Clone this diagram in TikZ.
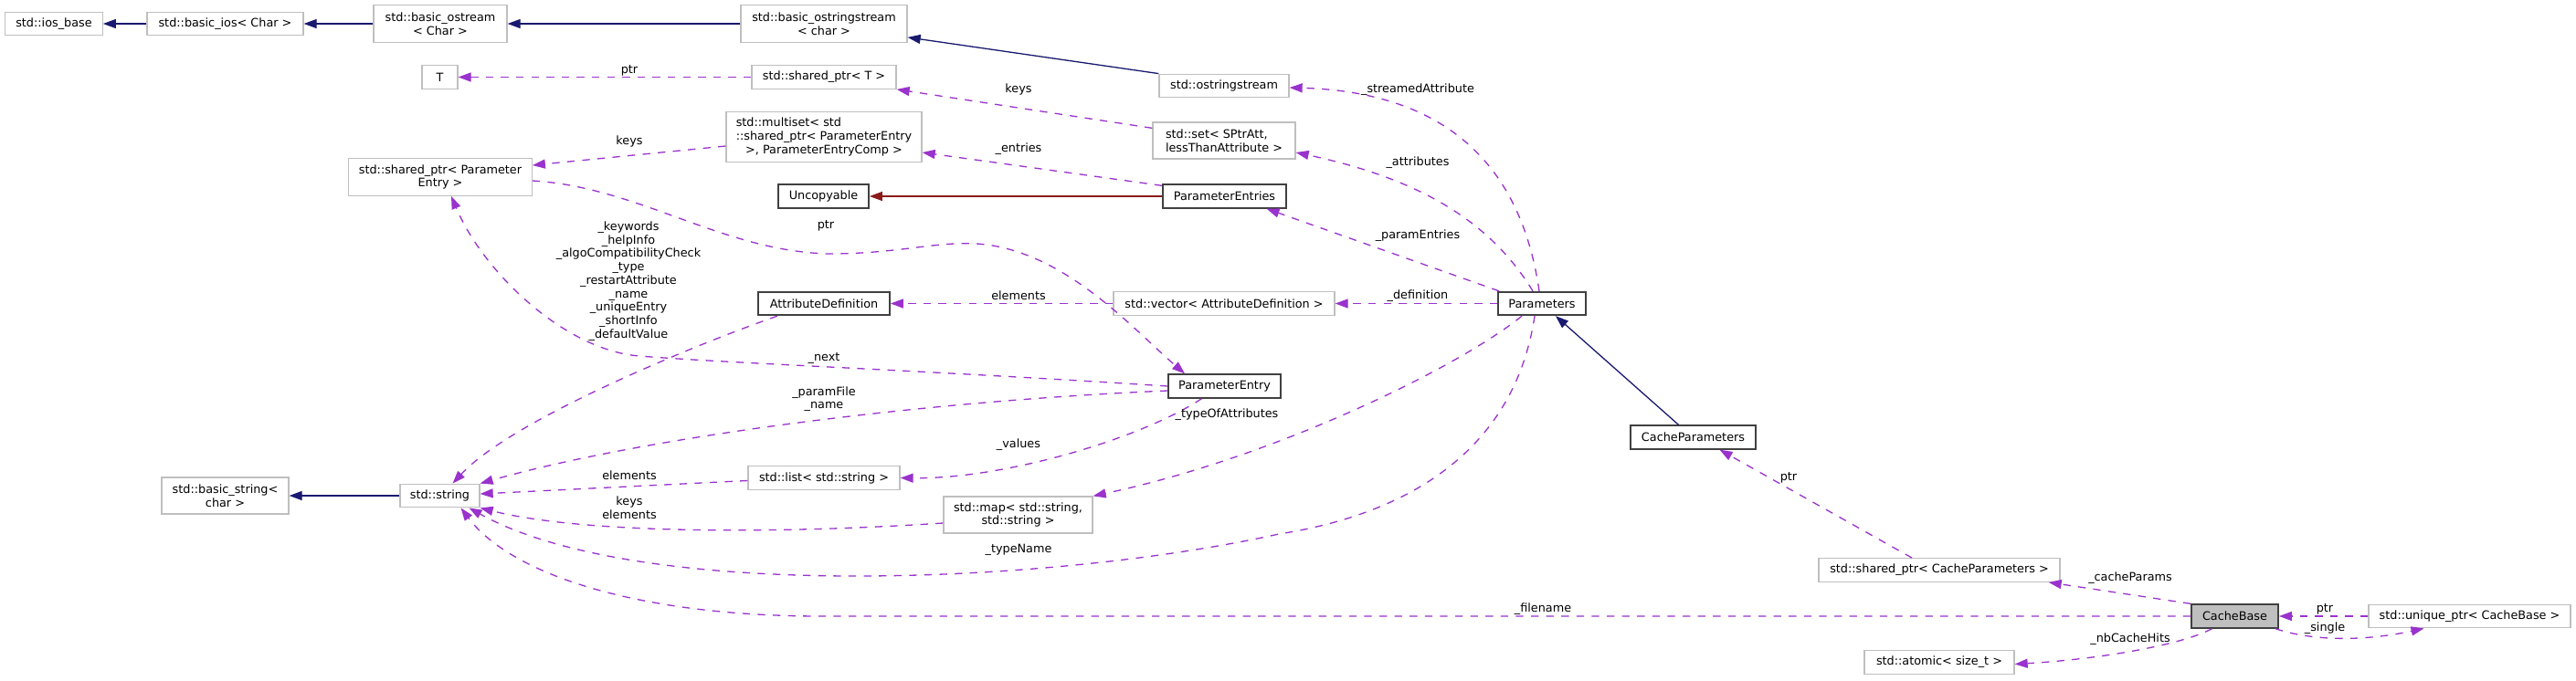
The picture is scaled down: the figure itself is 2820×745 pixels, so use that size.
\documentclass[tikz,border=0pt]{standalone}
\usepackage{fontspec}
\setmainfont{DejaVu Sans}
\usetikzlibrary{arrows.meta}
\definecolor{extgray}{HTML}{BFBFBF}
\definecolor{docline}{HTML}{404040}
\definecolor{usecol}{HTML}{9A32CD}
\definecolor{inhcol}{HTML}{191970}
\definecolor{privcol}{HTML}{8B1A1A}
\definecolor{basefill}{HTML}{BFBFBF}
\newcommand\dgfont{\fontsize{12.8}{14.7}\selectfont}
\tikzset{
  box/.style={rectangle, inner sep=0pt, align=center, font=\dgfont, fill=white},
  ext/.style={box, draw=extgray, line width=1.3pt},
  doc/.style={box, draw=docline, line width=1.8pt},
  sz/.style 2 args={minimum width=#1pt, minimum height=#2pt},
  lbl/.style={inner sep=0pt, align=center, font=\dgfont},
  tipend/.style={-{Triangle[length=14pt,width=10pt]}},
  use/.style={tipend, draw=usecol, line width=1.3pt, dash pattern=on 8.3pt off 8.3pt},
  inh/.style={tipend, draw=inhcol, line width=1.3pt},
  priv/.style={tipend, draw=privcol, line width=1.3pt},
}
\begin{document}
\begin{tikzpicture}[x=1pt,y=-1pt]
\fill[white] (0,0) rectangle (2820,745);
\useasboundingbox (0,0) rectangle (2820,745);

% nodes
\node[ext, sz={106.5}{25.5}] (iosbase) at (59,26) {std::ios\_base};
\node[ext, sz={171}{25.5}] (basicios) at (246.5,26) {std::basic\_ios< Char >};
\node[ext, sz={146}{40.5}] (basicostream) at (482,26) {std::basic\_ostream\\< Char >};
\node[ext, sz={39}{25.5}] (T) at (481.5,84.5) {T};
\node[ext, sz={200.5}{40.5}] (shPE) at (482,194) {std::shared\_ptr< Parameter\\Entry >};
\node[ext, sz={182}{40.5}] (basicostringstream) at (902,26) {std::basic\_ostringstream\\< char >};
\node[ext, sz={158}{25.5}] (sptrT) at (902,84.5) {std::shared\_ptr< T >};
\node[ext, sz={214}{54.5}] (multiset) at (902,150) {\rlap{std::multiset< std}\phantom{::shared\_ptr< ParameterEntry}\\::shared\_ptr< ParameterEntry\\>, ParameterEntryComp >};
\node[doc, sz={99}{25.5}] (uncopyable) at (901.5,215) {Uncopyable};
\node[doc, sz={135}{25.5}] (paramentries) at (1340.5,215) {ParameterEntries};
\node[ext, sz={142}{25.5}] (ostringstream) at (1340,94) {std::ostringstream};
\node[ext, sz={156}{40}] (stdset) at (1340,154) {\rlap{std::set< SPtrAtt,}\phantom{lessThanAttribute >}\\lessThanAttribute >};
\node[doc, sz={144}{25.5}] (attrdef) at (902,332.5) {AttributeDefinition};
\node[ext, sz={242}{25.5}] (vector) at (1340,332.5) {std::vector< AttributeDefinition >};
\node[doc, sz={96}{25.5}] (params) at (1688,332.5) {Parameters};
\node[ext, sz={139}{40}] (basicstring) at (246.5,543) {std::basic\_string<\\char >};
\node[ext, sz={87}{25.5}] (stdstring) at (481.5,543) {std::string};
\node[doc, sz={123}{25.5}] (paramentry) at (1340.5,423) {ParameterEntry};
\node[ext, sz={166}{25.5}] (list) at (902,523.5) {std::list< std::string >};
\node[ext, sz={163}{40}] (map) at (1114.5,564) {std::map< std::string,\\std::string >};
\node[doc, sz={137}{25.5}] (cacheparams) at (1853.5,479) {CacheParameters};
\node[ext, sz={264}{25.5}] (sptrcp) at (2123,624.5) {std::shared\_ptr< CacheParameters >};
\node[ext, sz={164}{25.5}] (atomic) at (2123,725.5) {std::atomic< size\_t >};
\node[doc, sz={95}{25.5}, fill=basefill] (cachebase) at (2446.5,675) {CacheBase};
\node[ext, sz={221}{25.5}] (uniqueptr) at (2703.5,675) {std::unique\_ptr< CacheBase >};

% inheritance
\draw[inh] (basicios) -- (iosbase);
\draw[inh] (basicostream) -- (basicios);
\draw[inh] (basicostringstream) -- (basicostream);
\draw[inh] (ostringstream.north west) -- ([yshift=6pt]basicostringstream.south east);
\draw[inh] (stdstring) -- (basicstring);
\draw[inh] ([xshift=-16pt]cacheparams.north) -- ([xshift=15pt]params.south);
\draw[priv] (paramentries) -- (uncopyable);

% usage
\draw[use] (sptrT) -- (T);
\draw[use] ([yshift=-7pt]stdset.north west) -- (sptrT.south east);
\draw[use] ([yshift=-10pt]multiset.west) -- ([yshift=13pt]shPE.east);
\draw[use] ([yshift=-2pt]paramentries.north west) -- ([yshift=-17pt]multiset.east);
\draw[use] ([xshift=-3pt]params.north) .. controls (1662,160) and (1560,100) .. ([yshift=-2pt]ostringstream.east);
\draw[use] ([xshift=-10pt]params.north) .. controls (1630,240) and (1550,195) .. ([yshift=-13pt]stdset.east);
\draw[use] ([xshift=2pt]params.north west) -- ([xshift=46pt]paramentries.south);
\draw[use] (params) -- (vector);
\draw[use] (vector) -- (attrdef);
\draw[use] ([yshift=-4pt]shPE.east) .. controls (700,205) and (790,275) .. (907,278)
  .. controls (990,278) and (1030,262) .. (1080,268)
  .. controls (1170,280) and (1240,360) .. ([xshift=-43.5pt]paramentry.north);
\draw[use] (paramentry.west) .. controls (1000,405) and (800,398) .. (700,390)
  .. controls (620,384) and (530,300) .. ([xshift=12pt]shPE.south);
\draw[use] ([xshift=-51pt]attrdef.south) .. controls (760,378) and (560,460) .. ([xshift=14pt]stdstring.north);
\draw[use] ([yshift=-5pt]paramentry.west) .. controls (1000,440) and (700,480) .. (stdstring.north east);
\draw[use] ([yshift=-3pt]list.west) -- ([yshift=2pt]stdstring.east);
\draw[use] ([xshift=-25pt]paramentry.south) .. controls (1250,480) and (1100,525) .. (list.east);
\draw[use] ([yshift=-9pt]map.west) .. controls (850,585) and (640,585) .. (stdstring.south east);
\draw[use] ([xshift=-22pt]params.south) .. controls (1600,400) and (1400,500) .. (map.north east);
\draw[use] ([xshift=-8pt]params.south) .. controls (1660,480) and (1560,560) .. (1400,585)
  .. controls (1150,640) and (700,660) .. ([xshift=32pt]stdstring.south);
\draw[use] (cachebase.west) -- (900,675) .. controls (700,675) and (560,630) .. ([xshift=23pt]stdstring.south);
\draw[use] ([xshift=-30pt]sptrcp.north) -- ([xshift=29pt]cacheparams.south);
\draw[use] (cachebase.north west) -- ([xshift=-13pt]sptrcp.south east);
\draw[use] (uniqueptr) -- (cachebase);
\draw[use] ([xshift=-4pt]cachebase.south east) .. controls (2540,705) and (2600,700) .. ([xshift=-50pt]uniqueptr.south);
\draw[use] ([xshift=-25pt]cachebase.south) .. controls (2390,706) and (2300,722) .. ([yshift=-2pt]atomic.east);

% labels
\node[lbl] (l1) at (689,77) {ptr};
\node[lbl] (l2) at (1115,98) {keys};
\node[lbl] (l3) at (689,155) {keys};
\node[lbl] (l4) at (1115,163) {\_entries};
\node[lbl] (l5) at (1552,98) {\_streamedAttribute};
\node[lbl] (l6) at (1552,178) {\_attributes};
\node[lbl] (l7) at (1552,258) {\_paramEntries};
\node[lbl] (l8) at (1552,324) {\_definition};
\node[lbl] (l9) at (1115,324) {elements};
\node[lbl] (l10) at (904,247) {ptr};
\node[lbl] (l11) at (688,308) {\_keywords\\\_helpInfo\\\_algoCompatibilityCheck\\\_type\\\_restartAttribute\\\_name\\\_uniqueEntry\\\_shortInfo\\\_defaultValue};
\node[lbl] (l12) at (902,393) {\_next};
\node[lbl] (l13) at (902,437) {\_paramFile\\\_name};
\node[lbl] (l14) at (689,521) {elements};
\node[lbl] (l15) at (689,556) {keys\\elements};
\node[lbl] (l16) at (1115,487) {\_values};
\node[lbl] (l17) at (1343,454) {\_typeOfAttributes};
\node[lbl] (l18) at (1115,602) {\_typeName};
\node[lbl] (l19) at (1689,667) {\_filename};
\node[lbl] (l20) at (1958,523) {ptr};
\node[lbl] (l21) at (2332,633) {\_cacheParams};
\node[lbl] (l22) at (2545,667) {ptr};
\node[lbl] (l23) at (2545,688) {\_single};
\node[lbl] (l24) at (2332,700) {\_nbCacheHits};
\end{tikzpicture}
\end{document}
